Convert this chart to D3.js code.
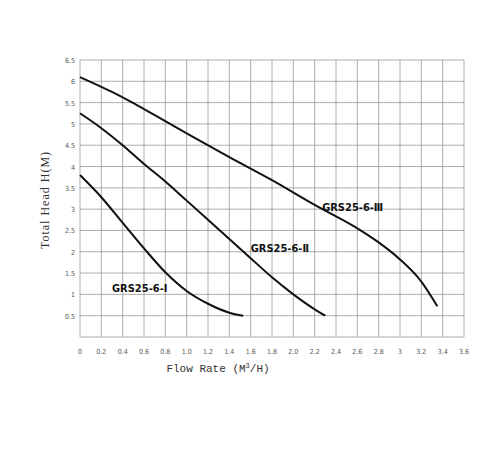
<!DOCTYPE html>
<html><head><meta charset="utf-8">
<script src="https://cdn.jsdelivr.net/npm/d3@7"></script>
<style>body{margin:0;background:#fff}</style>
</head><body>
<script>
let xTicks=["0","0.2","0.4","0.6","0.8","1.0","1.2","1.4","1.6","1.8","2.0","2.2","2.4","2.6","2.8","3","3.2","3.4","3.6"];
let yTicks=[0.5,1,1.5,2,2.5,3,3.5,4,4.5,5,5.5,6,6.5];
let c1=[[0,3.8],[0.2,3.28],[0.4,2.68],[0.6,2.08],[0.8,1.52],[1.0,1.08],[1.2,0.78],[1.4,0.57],[1.53,0.5]];
let c2=[[0,5.25],[0.2,4.9],[0.4,4.5],[0.6,4.06],[0.8,3.65],[1.0,3.2],[1.2,2.75],[1.4,2.3],[1.6,1.85],[1.8,1.4],[2.0,1.0],[2.2,0.65],[2.3,0.5]];
let c3=[[0,6.1],[0.3,5.75],[0.6,5.35],[1.0,4.78],[1.4,4.22],[1.8,3.68],[2.2,3.1],[2.6,2.55],[2.8,2.22],[3.0,1.82],[3.2,1.3],[3.35,0.72]];
let names=["GRS25-6-Ⅰ","GRS25-6-Ⅱ","GRS25-6-Ⅲ"];
let labelAt=[[0.3,1.05],[1.6,2.0],[2.27,2.95]];

let svg=d3.select("body").append("svg").attr("width",500).attr("height",450);
let x=d3.scaleLinear().domain([0,3.6]).range([80,464]);
let y=d3.scaleLinear().domain([0,6.5]).range([337,60]);
let g=svg.append("g");
// grid
d3.range(0,19).forEach(i=>g.append("line").attr("x1",x(i*0.2)).attr("x2",x(i*0.2)).attr("y1",y(0)).attr("y2",y(6.5)).attr("stroke","#999").attr("stroke-width",0.8));
[0].concat(yTicks).forEach(v=>g.append("line").attr("x1",x(0)).attr("x2",x(3.6)).attr("y1",y(v)).attr("y2",y(v)).attr("stroke","#999").attr("stroke-width",0.8));
let f="'DejaVu Sans Condensed','DejaVu Sans',sans-serif";
xTicks.forEach((t,i)=>svg.append("text").text(t).attr("x",x(i*0.2)).attr("y",354).attr("text-anchor","middle").style("font",`7px ${f}`).attr("fill","#555"));
yTicks.forEach(v=>svg.append("text").text(v).attr("x",75).attr("y",y(v)+3).attr("text-anchor","end").style("font",`7px ${f}`).attr("fill","#555"));
let line=d3.line().x(d=>x(d[0])).y(d=>y(d[1])).curve(d3.curveMonotoneX);
[c1,c2,c3].forEach(c=>svg.append("path").attr("d",line(c)).attr("fill","none").attr("stroke","#111").attr("stroke-width",2));
names.forEach((n,i)=>svg.append("text").text(n).attr("x",x(labelAt[i][0])).attr("y",y(labelAt[i][1])).style("font",`bold 11px ${f}`).attr("fill","#111"));
svg.append("text").text("Total Head H(M)").attr("transform","translate(49,200) rotate(-90)").attr("text-anchor","middle").style("font","12px 'Liberation Serif',serif").attr("fill","#333").style("letter-spacing","1px");
let xt=svg.append("text").attr("x",218).attr("y",372).attr("text-anchor","middle").style("font","11px 'Liberation Mono',monospace").attr("fill","#333");
xt.append("tspan").text("Flow Rate (M");
xt.append("tspan").text("3").attr("dy",-4).style("font-size","7px");
xt.append("tspan").text("/H)").attr("dy",4);
</script>
</body></html>
